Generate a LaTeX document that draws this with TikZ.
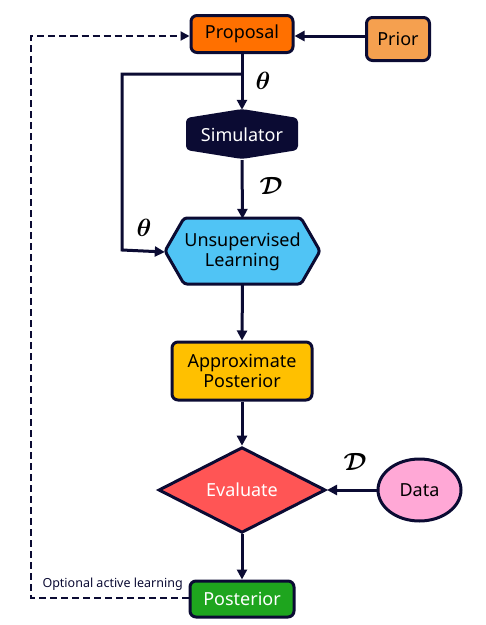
\documentclass[tikz,border=0pt]{standalone}
\usepackage{fontspec}
\setmainfont{Noto Sans}
\usetikzlibrary{shapes.geometric,arrows.meta}
\definecolor{navy}{HTML}{0B0B33}
\definecolor{cprop}{HTML}{FF7000}
\definecolor{cprior}{HTML}{F5A04F}
\definecolor{cunsup}{HTML}{50C4F5}
\definecolor{capprox}{HTML}{FFC000}
\definecolor{ceval}{HTML}{FF5555}
\definecolor{cdata}{HTML}{FFA8D6}
\definecolor{cpost}{HTML}{1EA51E}
\tikzset{
  txt/.style={font=\fontsize{18}{20}\selectfont},
  box/.style={draw=navy, line width=3pt, rounded corners=6pt, align=center, txt, inner sep=0pt},
  conn/.style={draw=navy, line width=3pt, -{Triangle[length=10pt,width=10pt]}},
  lbl/.style={font=\fontsize{27}{30}\selectfont\boldmath, text=black},
  hexa/.style={draw=navy, line width=3pt, rounded corners=3pt, line join=round},
}
\begin{document}
\begin{tikzpicture}[x=1pt,y=-1pt]
\useasboundingbox (0,0) rectangle (486,625);
% nodes
\node[box, fill=cprop, minimum width=102pt, minimum height=37pt] (prop) at (242,34) {Proposal};
\node[box, fill=cprior, minimum width=63pt, minimum height=43pt] (prior) at (398,39) {Prior};
% simulator
\fill[navy, rounded corners=4pt] (186,118) -- (242,109) -- (298,118) -- (298,150) -- (242,159) -- (186,150) -- cycle;
\node[txt, text=white, minimum width=112pt, minimum height=50pt, inner sep=0pt] (sim) at (242,135) {Simulator};
% unsupervised
\filldraw[hexa, fill=cunsup] (165,251) -- (184,218) -- (301,218) -- (320,251) -- (301,284) -- (184,284) -- cycle;
\node[align=center, txt, minimum width=155pt, minimum height=66pt, inner sep=0pt] (uns) at (242.5,252) {Unsupervised\\Learning};
\node[box, fill=capprox, minimum width=140pt, minimum height=58pt] (approx) at (242,371) {Approximate\\Posterior};
\node[diamond, draw=navy, line width=3pt, fill=ceval, minimum width=167pt, minimum height=63pt, inner sep=0pt, txt, text=white] (eval) at (242,490) {Evaluate};
\node[ellipse, draw=navy, line width=3pt, fill=cdata, minimum width=83pt, minimum height=62pt, inner sep=0pt, txt] (data) at (419.5,490) {Data};
\node[box, fill=cpost, text=white, minimum width=104pt, minimum height=36pt] (post) at (242,599) {Posterior};
% connectors
\draw[conn] (prior.west |- 0,36) -- (prop.east |- 0,36);
\draw[conn] (prop) -- (sim.north);
\coordinate (split) at (242,74);
\coordinate (lc1) at (122,74);
\coordinate (lc2) at (122,250);
\draw[conn] (split) -- (lc1) -- (lc2) -- (uns.west);
\draw[conn] (sim.south) -- (uns.north);
\draw[conn] (uns.south) -- (approx.north);
\draw[conn] (approx.south) -- (eval.north);
\draw[conn] (data.west) -- (eval.east);
\draw[conn] (eval.south) -- (post.north);
\coordinate (d1) at (31,598);
\coordinate (d2) at (31,36);
\draw[draw=navy, line width=2pt, dash pattern=on 7pt off 4pt, -{Triangle[length=9pt,width=9pt]}] (post.west |- 0,598) -- (d1) -- (d2) -- (prop.west |- 0,36);
% labels
\node[lbl] (t1) at (263,81) {$\theta$};
\node[lbl] (t2) at (144,228) {$\theta$};
\node[lbl] (D1) at (271,186) {$\mathcal{D}$};
\node[lbl] (D2) at (355,462) {$\mathcal{D}$};
\node[font=\fontsize{12.5}{14}\selectfont, text=navy, anchor=west] (opt) at (39,584) {Optional active learning};
\end{tikzpicture}
\end{document}
